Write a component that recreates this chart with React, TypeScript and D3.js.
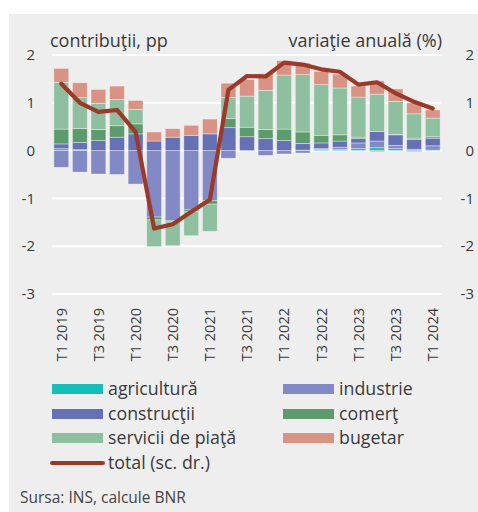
import React from "react";
import * as d3 from "d3";

const quarters = [
  "T1 2019", "T2 2019", "T3 2019", "T4 2019",
  "T1 2020", "T2 2020", "T3 2020", "T4 2020",
  "T1 2021", "T2 2021", "T3 2021", "T4 2021",
  "T1 2022", "T2 2022", "T3 2022", "T4 2022",
  "T1 2023", "T2 2023", "T3 2023", "T4 2023",
  "T1 2024",
];
const agricultura = [0.04, 0.02, 0, 0, 0, 0, 0, 0, 0, 0, 0, 0, 0, 0.01, 0.02, 0.02, 0.04, 0.06, 0.04, 0.03, 0.01];
const industrie = [-0.35, -0.45, -0.49, -0.5, -0.7, -1.39, -1.47, -1.24, -1.05, -0.16, 0, -0.1, -0.07, -0.05, 0.02, 0.05, 0.12, 0.14, 0.07, -0.02, 0.09];
const constructii = [0.1, 0.15, 0.21, 0.28, 0.35, 0.2, 0.28, 0.32, 0.35, 0.48, 0.29, 0.25, 0.21, 0.14, 0.12, 0.13, 0.09, 0.2, 0.22, 0.2, 0.16];
const comert = [0.31, 0.29, 0.23, 0.24, 0.21, -0.06, -0.02, -0.04, -0.07, 0.19, 0.2, 0.19, 0.24, 0.24, 0.16, 0.13, 0.03, -0.02, 0.01, 0.03, 0.03];
const servicii = [0.98, 0.65, 0.55, 0.55, 0.3, -0.56, -0.5, -0.5, -0.57, 0.44, 0.65, 0.82, 1.13, 1.2, 1.06, 0.98, 0.84, 0.78, 0.69, 0.51, 0.39];
const bugetar = [0.29, 0.31, 0.29, 0.28, 0.19, 0.19, 0.18, 0.21, 0.31, 0.3, 0.35, 0.35, 0.3, 0.24, 0.28, 0.29, 0.23, 0.28, 0.26, 0.23, 0.17];
const total = [1.4, 1.0, 0.81, 0.85, 0.39, -1.63, -1.54, -1.28, -1.03, 1.27, 1.56, 1.55, 1.84, 1.8, 1.7, 1.65, 1.38, 1.43, 1.2, 1.02, 0.88];

const seriesKeys = ["agricultura", "industrie", "constructii", "comert", "servicii", "bugetar"];
const seriesLabels = ["agricultură", "industrie", "construcţii", "comerţ", "servicii de piaţă", "bugetar"];
const seriesColors = ["#17bdb9", "#8389c4", "#6670b4", "#5d9b6c", "#8ebf9e", "#d99384"];
const totalLabel = "total (sc. dr.)";
const totalColor = "#9c3a2a";
const yTicks = [2, 1, 0, -1, -2, -3];

const W = 478;
const H = 512;

export default function App() {
  const x = d3.scaleBand<string>().domain(quarters).range([52, 442]).paddingInner(0.2).paddingOuter(0.1);
  const y = d3.scaleLinear().domain([-3, 2]).range([294, 55]);

  const table = quarters.map((q, i) => ({
    q,
    agricultura: agricultura[i],
    industrie: industrie[i],
    constructii: constructii[i],
    comert: comert[i],
    servicii: servicii[i],
    bugetar: bugetar[i],
  }));
  const stacked = d3.stack<any>().keys(seriesKeys).offset(d3.stackOffsetDiverging)(table);

  const line = d3
    .line<number>()
    .x((_, i) => (x(quarters[i]) as number) + x.bandwidth() / 2)
    .y((d) => y(d));

  const font = "'Open Sans', sans-serif";
  const textColor = "#3a3a3a";

  const legendItems = [
    { label: seriesLabels[0], color: seriesColors[0], col: 0, row: 0 },
    { label: seriesLabels[1], color: seriesColors[1], col: 1, row: 0 },
    { label: seriesLabels[2], color: seriesColors[2], col: 0, row: 1 },
    { label: seriesLabels[3], color: seriesColors[3], col: 1, row: 1 },
    { label: seriesLabels[4], color: seriesColors[4], col: 0, row: 2 },
    { label: seriesLabels[5], color: seriesColors[5], col: 1, row: 2 },
  ];
  const colX = [52, 283];
  const rowY = [389, 414, 438, 463];

  return (
    <div style={{ position: "absolute", left: 0, top: 0 }}>
      <svg width={W} height={H} style={{ display: "block" }} fontFamily={font}>
        <rect x={0} y={0} width={W} height={H} fill="#ffffff" />
        <rect x={9} y={14} width={W - 9} height={H - 14} fill="#eeeeee" />
        {yTicks.map((t) => (
          <g key={t}>
            <line x1={52} x2={442} y1={y(t)} y2={y(t)} stroke="#ffffff" strokeWidth={2} />
            <text x={35} y={y(t)} dy="0.35em" textAnchor="end" fontSize={15} fill={textColor}>
              {t}
            </text>
            <text x={474} y={y(t)} dy="0.35em" textAnchor="end" fontSize={15} fill={textColor}>
              {t}
            </text>
          </g>
        ))}
        <text x={50} y={47} fontSize={18} fill={textColor}>contribuţii, pp</text>
        <text x={442} y={47} fontSize={18} textAnchor="end" fill={textColor}>variaţie anuală (%)</text>

        {stacked.map((s, si) => (
          <g key={s.key} fill={seriesColors[si]}>
            {s.map((d, i) => {
              const y0 = y(d[0]);
              const y1 = y(d[1]);
              const h = Math.abs(y0 - y1);
              if (h < 0.01) return null;
              return (
                <rect
                  key={i}
                  x={x(quarters[i]) as number}
                  y={Math.min(y0, y1)}
                  width={x.bandwidth()}
                  height={h}
                  stroke="#ffffff"
                  strokeOpacity={0.45}
                  strokeWidth={0.8}
                />
              );
            })}
          </g>
        ))}

        <path d={line(total) || ""} fill="none" stroke={totalColor} strokeWidth={4.2} strokeLinejoin="round" strokeLinecap="round" />

        {quarters.map((q, i) =>
          i % 2 === 0 ? (
            <text
              key={q}
              transform={`translate(${(x(q) as number) + x.bandwidth() / 2},308) rotate(-90)`}
              textAnchor="end"
              dy="0.36em"
              fontSize={14.5}
              fill={textColor}
            >
              {q}
            </text>
          ) : null
        )}

        {legendItems.map((it) => (
          <g key={it.label}>
            <rect x={colX[it.col]} y={rowY[it.row] - 5} width={51} height={10} fill={it.color} />
            <text x={colX[it.col] + 56} y={rowY[it.row]} dy="0.35em" fontSize={17.8} fill={textColor}>
              {it.label}
            </text>
          </g>
        ))}
        <line x1={52} x2={103} y1={rowY[3]} y2={rowY[3]} stroke={totalColor} strokeWidth={4} strokeLinecap="round" />
        <text x={108} y={rowY[3]} dy="0.35em" fontSize={17.8} fill={textColor}>{totalLabel}</text>

        <text x={20} y={503} fontSize={15.5} fill="#444444">Sursa: INS, calcule BNR</text>
      </svg>
    </div>
  );
}
